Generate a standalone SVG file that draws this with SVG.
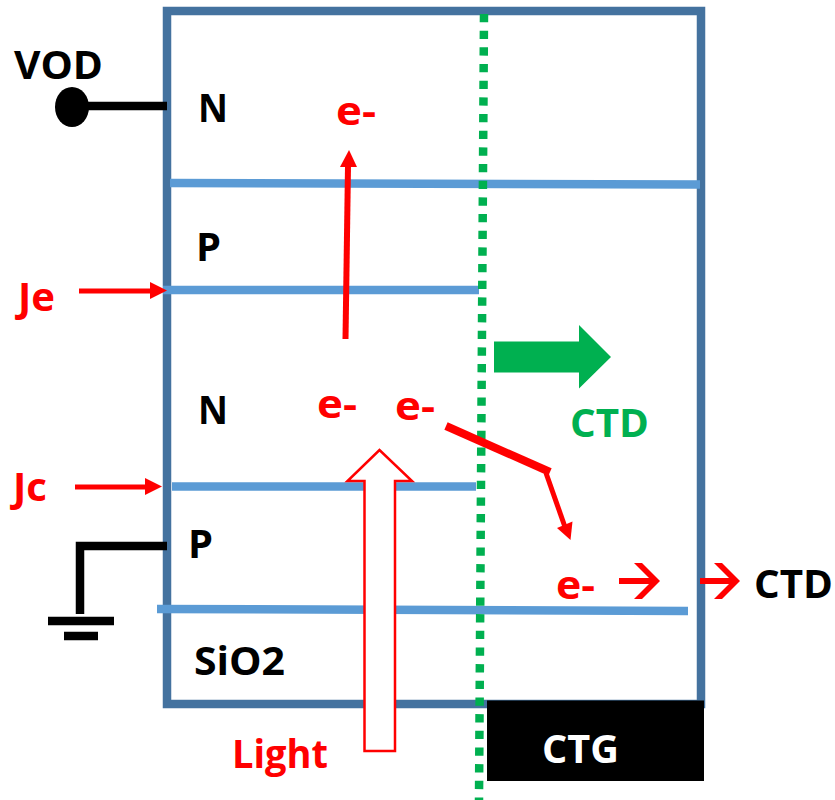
<svg xmlns="http://www.w3.org/2000/svg" width="835" height="800" viewBox="0 0 835 800">
<style>
text{font-family:"Open Sans","Noto Sans","Liberation Sans",sans-serif;font-weight:700;font-size:40px}
.k{fill:#000}.r{fill:#f00}.g{fill:#00b050}.w{fill:#fff}
.layer{fill:none;stroke:#5b9bd5;stroke-width:8.500}
.redl{fill:none;stroke:#f00}
.blk{fill:none;stroke:#000;stroke-width:8.500}
</style>
<rect width="835" height="800" fill="#fff"/>
<g id="device"><rect x="167" y="11" width="534" height="693" fill="none" stroke="#44729f" stroke-width="8.500"/></g>
<g id="layers">
<path class="layer" d="M170 183L700 184.500"/>
<path class="layer" d="M163 290H479"/>
<path class="layer" d="M172 486.500H476"/>
<path class="layer" d="M157 609L688 611"/>
</g>
<g id="ctg"><rect x="487" y="700.500" width="217" height="80.500" fill="#000"/><text class="w" x="542" y="763" textLength="77" lengthAdjust="spacingAndGlyphs">CTG</text></g>
<g id="connectors">
<path d="M484 14L479 800" fill="none" stroke="#00b050" stroke-width="8.500" stroke-dasharray="8.300 8.370"/>
<path class="blk" d="M88 106H167"/>
<path class="blk" d="M167 546H80V614"/>
<path d="M48 621H114M64 636H98" class="blk"/>
<path class="redl" stroke-width="5" d="M79 291H151"/><path class="r" d="M150 282L167 290.500L150 299Z"/>
<path class="redl" stroke-width="5" d="M75 487H146"/><path class="r" d="M145 478L162 486.500L145 495Z"/>
<path class="redl" stroke-width="6" d="M345.500 339L348 166"/><path class="r" d="M340 167L349 150L357 167Z"/>
<path class="redl" stroke-width="8" d="M446 426L550 472"/>
<path class="redl" stroke-width="5" d="M546 473L565 527"/><path class="r" d="M557 528L572.500 521.500L570.500 540Z"/>
<path class="redl" stroke-width="6" d="M619 581H657"/><path class="r" d="M634 563H642L660 581L642 599H634L652 581Z"/>
<path class="redl" stroke-width="6" d="M700 581H737"/><path class="r" d="M714 563H722L740 581L722 599H714L732 581Z"/>
<path d="M364.500 751V481H347.500L379.500 450L412 481H395V751Z" fill="#fff" stroke="#f00" stroke-width="2.500"/>
<path class="g" d="M494 341.500H579V325L611 357L579 388.500V372.500H494Z"/>
</g>
<g id="vod"><ellipse cx="72" cy="107" rx="17" ry="20" fill="#000"/><text class="k" x="14" y="79" textLength="89" lengthAdjust="spacingAndGlyphs">VOD</text></g>
<g id="n1"><text class="k" x="198" y="122" textLength="30" lengthAdjust="spacingAndGlyphs">N</text></g>
<g id="p1"><text class="k" x="196" y="261" textLength="25" lengthAdjust="spacingAndGlyphs">P</text></g>
<g id="n2"><text class="k" x="198" y="424" textLength="30" lengthAdjust="spacingAndGlyphs">N</text></g>
<g id="p2"><text class="k" x="188" y="558" textLength="25" lengthAdjust="spacingAndGlyphs">P</text></g>
<g id="sio2"><text class="k" x="194" y="675" textLength="91" lengthAdjust="spacingAndGlyphs">SiO2</text></g>
<g id="je"><text class="r" x="18" y="311" textLength="37" lengthAdjust="spacingAndGlyphs">Je</text></g>
<g id="jc"><text class="r" x="13" y="501" textLength="34" lengthAdjust="spacingAndGlyphs">Jc</text></g>
<g id="e1"><text class="r" x="336" y="125" textLength="40" lengthAdjust="spacingAndGlyphs">e-</text></g>
<g id="e2"><text class="r" x="317" y="418" textLength="40" lengthAdjust="spacingAndGlyphs">e-</text></g>
<g id="e3"><text class="r" x="395" y="420" textLength="40" lengthAdjust="spacingAndGlyphs">e-</text></g>
<g id="e4"><text class="r" x="556" y="599" textLength="39" lengthAdjust="spacingAndGlyphs">e-</text></g>
<g id="light"><text class="r" x="232" y="768" textLength="96" lengthAdjust="spacingAndGlyphs">Light</text></g>
<g id="ctd-g"><text class="g" x="570" y="437" textLength="79" lengthAdjust="spacingAndGlyphs">CTD</text></g>
<g id="ctd-k"><text class="k" x="754" y="598" textLength="79" lengthAdjust="spacingAndGlyphs">CTD</text></g>
</svg>
